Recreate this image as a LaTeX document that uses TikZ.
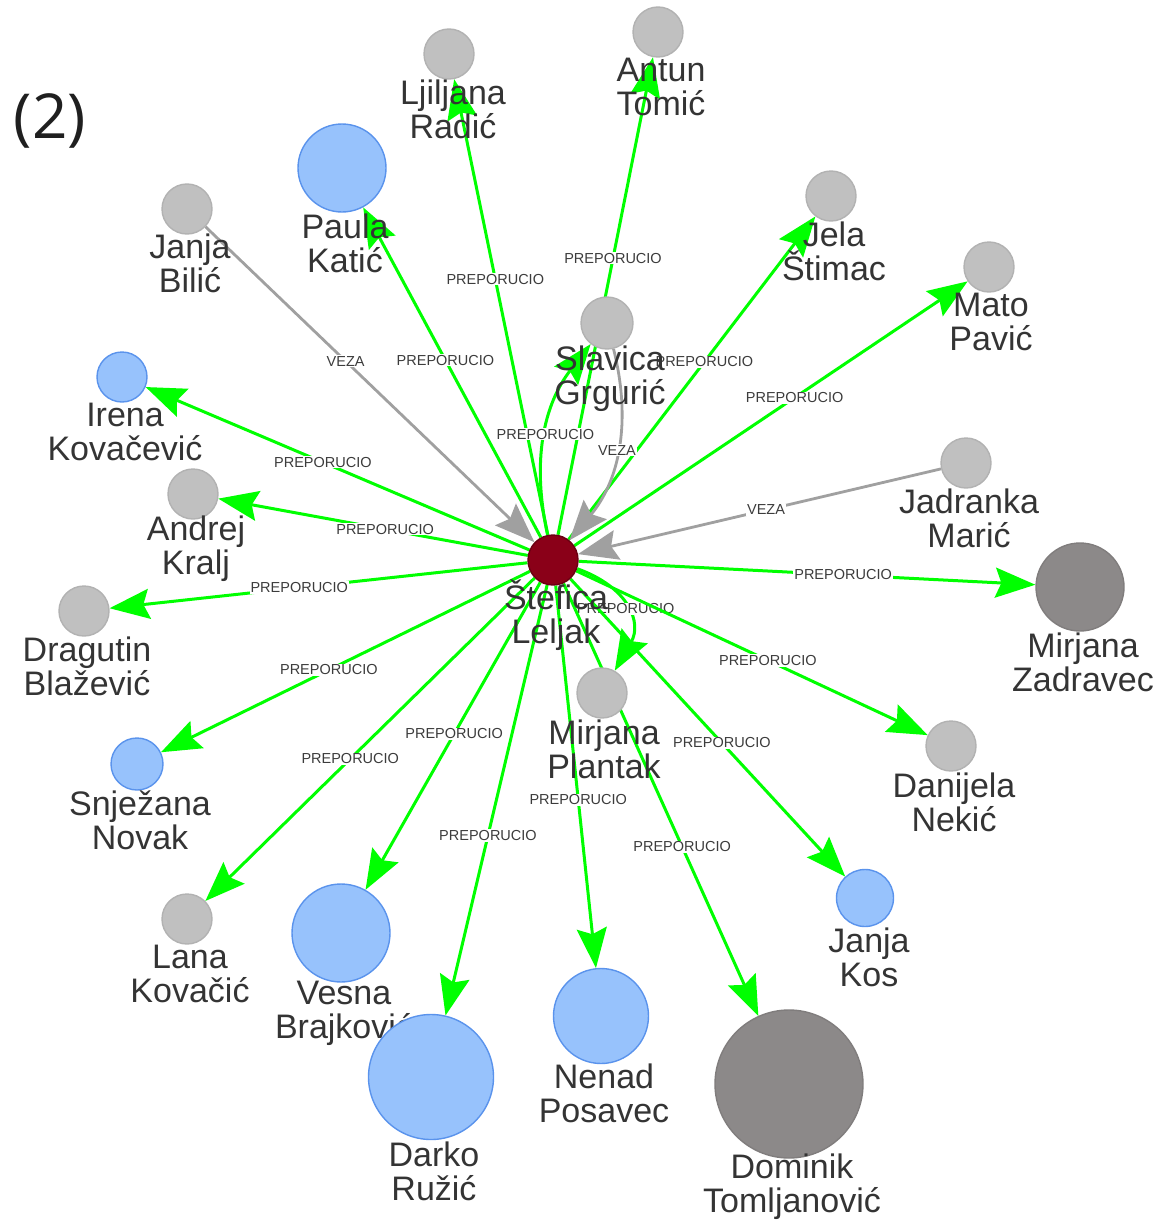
\documentclass[tikz,border=0pt]{standalone}
\usepackage{fontspec}
\setmainfont{Liberation Sans}
\newfontfamily\parenfont{Open Sans}
\usetikzlibrary{arrows.meta}
\definecolor{egreen}{HTML}{00FF00}
\definecolor{egray}{HTML}{A0A0A0}
\definecolor{ngray}{HTML}{C0C0C0}
\definecolor{ngrayb}{HTML}{B2B2B2}
\definecolor{nblue}{HTML}{97C2FC}
\definecolor{nblueb}{HTML}{5A93EC}
\definecolor{ndark}{HTML}{8C8989}
\definecolor{ndarkb}{HTML}{807D7D}
\definecolor{nred}{HTML}{8A0018}
\definecolor{nredb}{HTML}{6A0012}
\definecolor{txt}{HTML}{343434}
\definecolor{etxt}{HTML}{3C3C3C}
\pgfdeclarelayer{edges}
\pgfsetlayers{edges,main}
\begin{document}
\begin{tikzpicture}[x=1pt,y=-1pt,
  vnode/.style={circle,inner sep=0pt,line width=1.4pt},
  grayn/.style={vnode,fill=ngray,draw=ngrayb},
  bluen/.style={vnode,fill=nblue,draw=nblueb},
  darkn/.style={vnode,fill=ndark,draw=ndarkb},
  redn/.style={vnode,fill=nred,draw=nredb},
  nlabel/.style={align=center,font=\fontsize{34}{34}\selectfont,text=txt,inner sep=0pt},
  elabel/.style={font=\fontsize{14.5}{16}\selectfont,text=etxt,fill=white,inner sep=1pt},
  rec/.style={draw=egreen,line width=3pt,-{Stealth[length=40pt,width=30pt,inset=6pt]}},
  veza/.style={draw=egray,line width=2.8pt,-{Stealth[length=40pt,width=30pt,inset=6pt]}}
]
\useasboundingbox (0,0) rectangle (1160,1223);

% nodes with their labels (drawing order matters for overlaps)
\node[grayn,minimum size=50pt] (ljr) at (449,54) {};
\node[nlabel] (ljrL) at (453,109) {Ljiljana\\Radić};
\node[grayn,minimum size=50pt] (ant) at (658,32) {};
\node[nlabel] (antL) at (661,87) {Antun\\Tomić};
\node[bluen,minimum size=88pt] (pau) at (342,168) {};
\node[nlabel] (pauL) at (345,243) {Paula\\Katić};
\node[grayn,minimum size=50pt] (jbi) at (187,209) {};
\node[nlabel] (jbiL) at (190,263) {Janja\\Bilić};
\node[grayn,minimum size=50pt] (jel) at (831,196) {};
\node[nlabel] (jelL) at (834,251) {Jela\\Štimac};
\node[grayn,minimum size=50pt] (mat) at (989,267) {};
\node[nlabel] (matL) at (991,322) {Mato\\Pavić};
\node[grayn,minimum size=52pt] (sla) at (607,323) {};
\node[nlabel] (slaL) at (610,379) {Slavica\\Grgurić};
\node[bluen,minimum size=50pt] (ire) at (122,377) {};
\node[nlabel] (ireL) at (125,432) {Irena\\Kovačević};
\node[grayn,minimum size=50pt] (and) at (193,494) {};
\node[nlabel] (andL) at (196,549) {Andrej\\Kralj};
\node[grayn,minimum size=50pt] (jad) at (966,463) {};
\node[nlabel] (jadL) at (969,518) {Jadranka\\Marić};
\node[darkn,minimum size=88pt] (zad) at (1080,587) {};
\node[nlabel] (zadL) at (1083,662) {Mirjana\\Zadravec};
\node[grayn,minimum size=50pt] (dra) at (84,611) {};
\node[nlabel] (draL) at (87,666) {Dragutin\\Blažević};
\node[redn,minimum size=50pt] (c) at (553,560) {};
\node[nlabel] (cL) at (556,615) {Štefica\\Leljak};
\node[grayn,minimum size=50pt] (pla) at (602,693) {};
\node[nlabel] (plaL) at (604,749) {Mirjana\\Plantak};
\node[grayn,minimum size=50pt] (dan) at (951,746) {};
\node[nlabel] (danL) at (954,802) {Danijela\\Nekić};
\node[bluen,minimum size=52pt] (snj) at (137,764) {};
\node[nlabel] (snjL) at (140,820) {Snježana\\Novak};
\node[grayn,minimum size=50pt] (lan) at (187,919) {};
\node[nlabel] (lanL) at (190,974) {Lana\\Kovačić};
\node[bluen,minimum size=98pt] (ves) at (341,933) {};
\node[nlabel] (vesL) at (344,1013) {Vesna\\Brajković};
\node[bluen,minimum size=125pt] (dar) at (431,1077) {};
\node[nlabel] (darL) at (434,1171) {Darko\\Ružić};
\node[bluen,minimum size=95pt] (nen) at (601,1016) {};
\node[nlabel] (nenL) at (604,1093) {Nenad\\Posavec};
\node[darkn,minimum size=148pt] (dom) at (789,1084) {};
\node[nlabel] (domL) at (792,1187) {Dominik\\Tomljanović};
\node[bluen,minimum size=57pt] (jko) at (865,898) {};
\node[nlabel] (jkoL) at (869,957) {Janja\\Kos};

\node[font=\parenfont\fontsize{62}{62}\selectfont,text=black!88,inner sep=0pt] (title) at (50,121) {(2)};

\begin{pgfonlayer}{edges}
\draw[rec] (c) -- node[elabel,pos=.561]{PREPORUCIO} (ljr);
\draw[rec] (c) -- node[elabel,pos=.579]{PREPORUCIO} (ant);
\draw[rec] (c) -- node[elabel,pos=.537]{PREPORUCIO} (pau);
\draw[veza] (jbi) -- node[elabel,pos=.426]{VEZA} (c);
\draw[rec] (c) -- node[elabel,pos=.55]{PREPORUCIO} (jel);
\draw[rec] (c) -- node[elabel,pos=.56]{PREPORUCIO} (mat);
\draw[rec] (c) to[bend left=25] node[elabel]{PREPORUCIO} (sla);
\draw[veza] (sla) to[bend left=27] node[elabel]{VEZA} (c);
\draw[rec] (c) -- node[elabel,pos=.538]{PREPORUCIO} (ire);
\draw[veza] (jad) -- node[elabel,pos=.482]{VEZA} (c);
\draw[rec] (c) -- node[elabel,pos=.461]{PREPORUCIO} (and);
\draw[rec] (c) -- node[elabel,pos=.546]{PREPORUCIO} (dra);
\draw[rec] (c) -- node[elabel,pos=.579]{PREPORUCIO} (zad);
\draw[rec] (c) to[bend left=50,looseness=1.3] node[elabel]{PREPORUCIO} (pla);
\draw[rec] (c) -- node[elabel,pos=.545]{PREPORUCIO} (dan);
\draw[rec] (c) -- node[elabel,pos=.545]{PREPORUCIO} (snj);
\draw[rec] (c) -- node[elabel,pos=.493]{PREPORUCIO} (ves);
\draw[rec] (c) -- node[elabel,pos=.551]{PREPORUCIO} (jko);
\draw[rec] (c) -- node[elabel,pos=.56]{PREPORUCIO} (lan);
\draw[rec] (c) -- node[elabel,pos=.56]{PREPORUCIO} (nen);
\draw[rec] (c) -- node[elabel,pos=.582]{PREPORUCIO} (dar);
\draw[rec] (c) -- node[elabel,pos=.609]{PREPORUCIO} (dom);
\end{pgfonlayer}
\end{tikzpicture}
\end{document}
